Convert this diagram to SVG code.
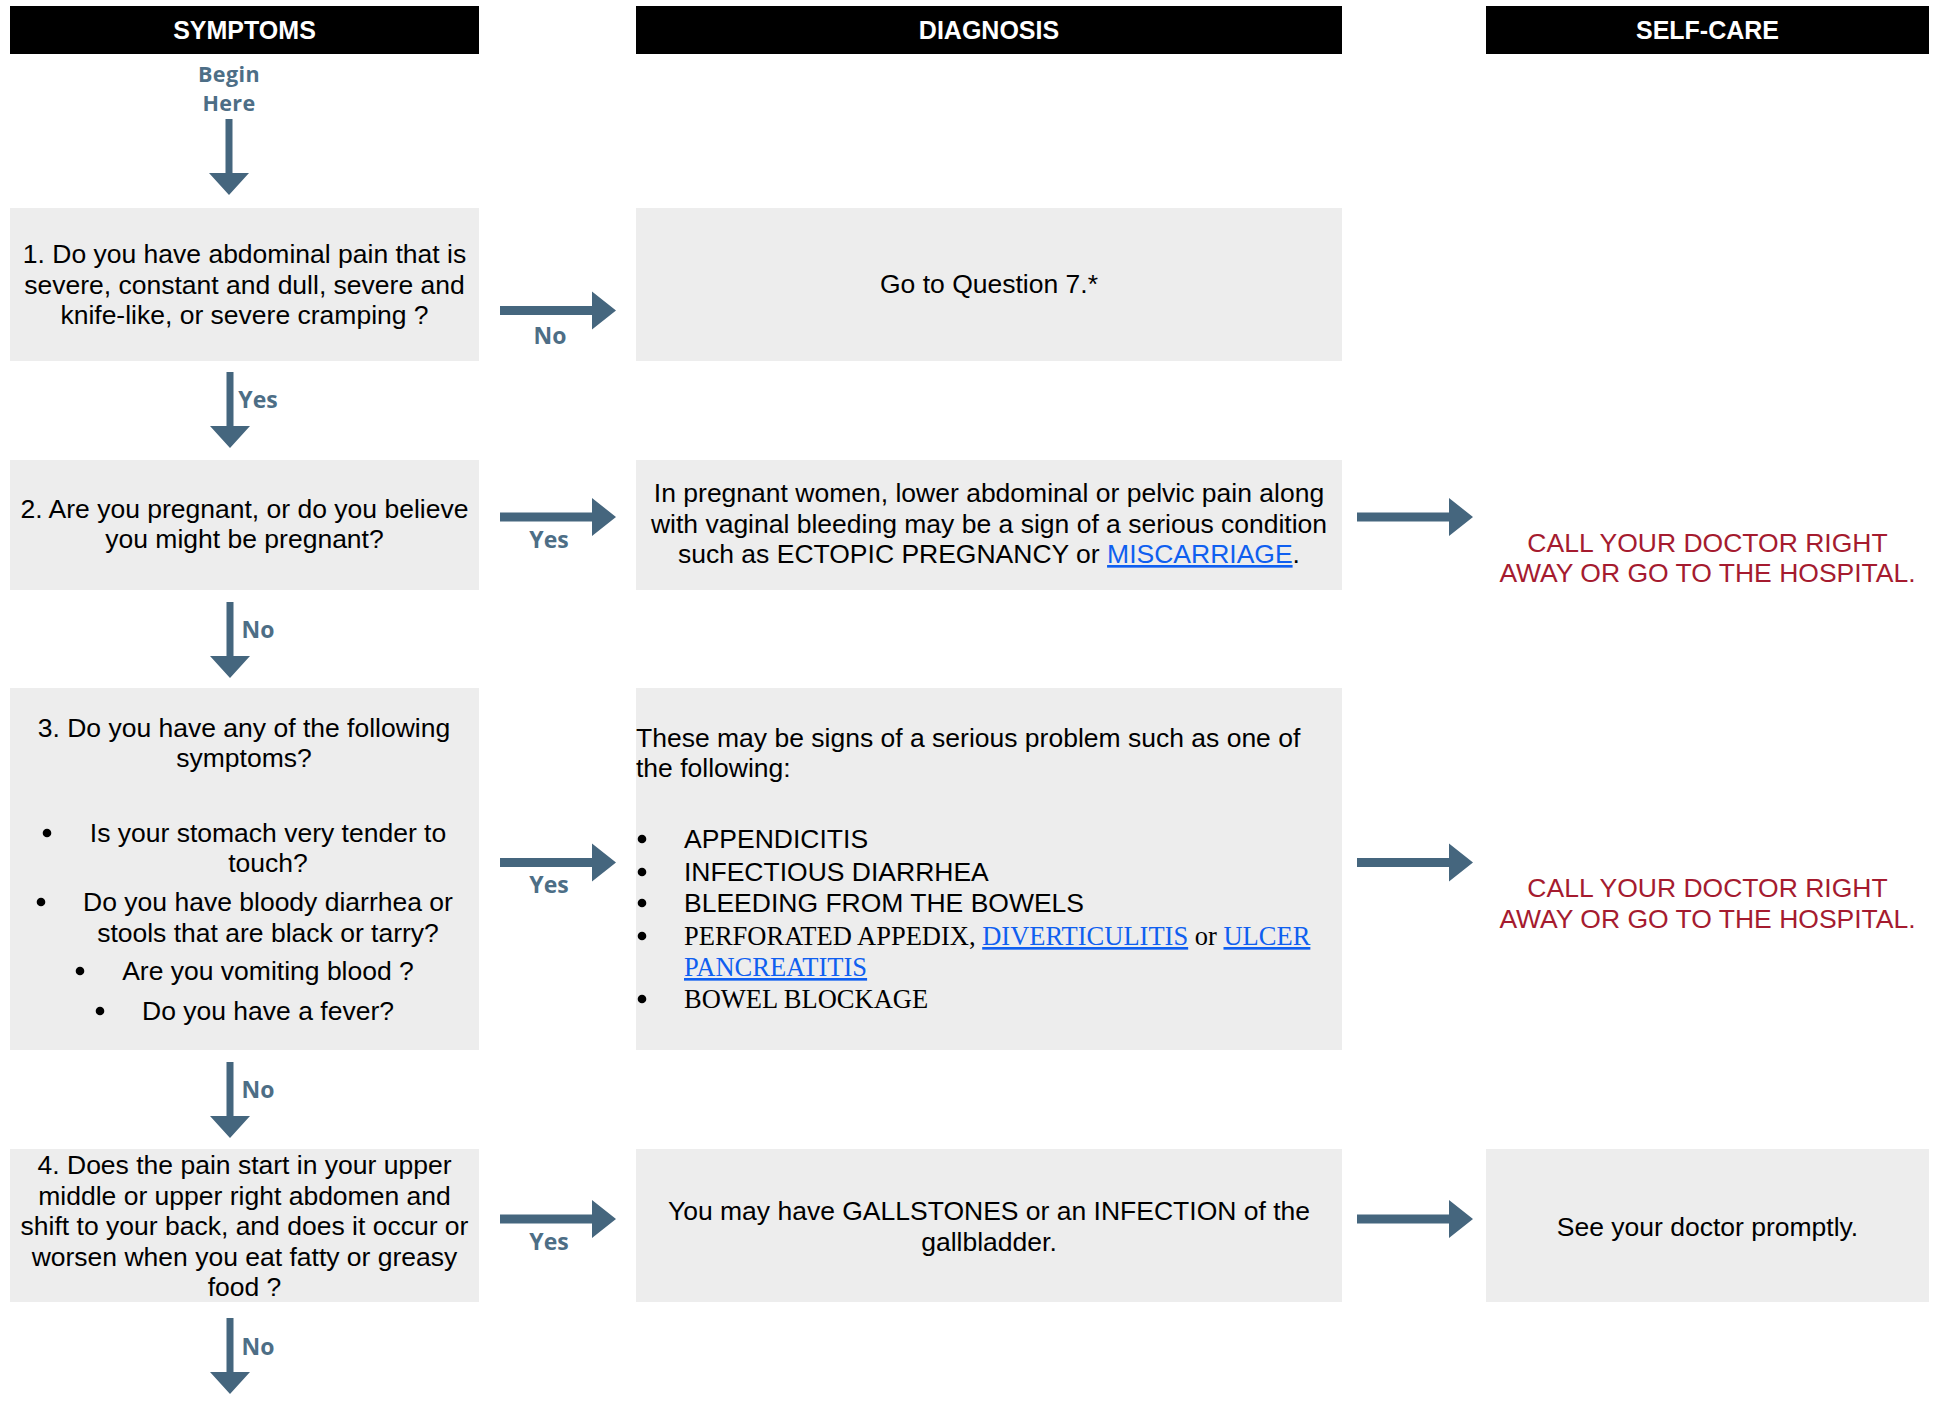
<svg xmlns="http://www.w3.org/2000/svg" xmlns:xlink="http://www.w3.org/1999/xlink" width="1939" height="1409" viewBox="0 0 1939 1409">
<style>
.box{fill:#ededed}
.hdr{fill:#000}
.ht{font-family:"Liberation Sans",Arial,sans-serif;font-weight:bold;font-size:25px;fill:#fff;text-anchor:middle}
.t{font-family:"Liberation Sans",Arial,sans-serif;font-size:26.5px;fill:#000}
.c{text-anchor:middle}
.serif{font-family:"Liberation Serif","Times New Roman",serif}
.lnk{fill:#0f5ff0;text-decoration:underline}
.red{fill:#a51b2f}
.lbl{font-family:"Open Sans",sans-serif;font-weight:bold;font-size:23px;fill:#4d6e86;text-anchor:middle}
.bh{font-size:21.5px;letter-spacing:0.4px}
.arr{fill:#45667e}
.bul{fill:#000}
</style>
<defs>
<path id="ra" class="arr" d="M0,-4.5 H92 V-19 L116,0 L92,19 V4.5 H0 Z"/>
<path id="da" class="arr" d="M-3.5,0 H3.5 V54 H20 L0,76 L-20,54 H-3.5 Z"/>
</defs>
<rect width="1939" height="1409" fill="#fff"/>

<g id="headers">
<g id="hdr-symptoms"><rect class="hdr" x="10" y="6" width="469" height="48"/><text class="ht" x="244.5" y="39">SYMPTOMS</text></g>
<g id="hdr-diagnosis"><rect class="hdr" x="636" y="6" width="706" height="48"/><text class="ht" x="989" y="39">DIAGNOSIS</text></g>
<g id="hdr-selfcare"><rect class="hdr" x="1486" y="6" width="443" height="48"/><text class="ht" x="1707.5" y="39">SELF-CARE</text></g>
</g>

<g id="begin">
<text class="lbl bh" x="229" y="81.5">Begin</text>
<text class="lbl bh" x="229" y="111">Here</text>
</g>

<g id="q1">
<rect class="box" x="10" y="208" width="469" height="153"/>
<text class="t c" x="244.5" y="263">1. Do you have abdominal pain that is</text>
<text class="t c" x="244.5" y="293.5">severe, constant and dull, severe and</text>
<text class="t c" x="244.5" y="324">knife-like, or severe cramping ?</text>
</g>

<g id="d1">
<rect class="box" x="636" y="208" width="706" height="153"/>
<text class="t c" x="989" y="293">Go to Question 7.*</text>
</g>

<g id="q2">
<rect class="box" x="10" y="460" width="469" height="130"/>
<text class="t c" x="244.5" y="518">2. Are you pregnant, or do you believe</text>
<text class="t c" x="244.5" y="548">you might be pregnant?</text>
</g>

<g id="d2">
<rect class="box" x="636" y="460" width="706" height="130"/>
<text class="t c" x="989" y="502">In pregnant women, lower abdominal or pelvic pain along</text>
<text class="t c" x="989" y="532.5">with vaginal bleeding may be a sign of a serious condition</text>
<text class="t c" x="989" y="563">such as ECTOPIC PREGNANCY or <tspan class="lnk">MISCARRIAGE</tspan>.</text>
</g>

<g id="s2">
<text class="t c red" x="1707.5" y="552">CALL YOUR DOCTOR RIGHT</text>
<text class="t c red" x="1707.5" y="582">AWAY OR GO TO THE HOSPITAL.</text>
</g>

<g id="q3">
<rect class="box" x="10" y="688" width="469" height="362"/>
<text class="t c" x="244" y="737">3. Do you have any of the following</text>
<text class="t c" x="244" y="767">symptoms?</text>
<circle class="bul" cx="47" cy="833" r="4.3"/>
<text class="t c" x="268" y="842">Is your stomach very tender to</text>
<text class="t c" x="268" y="872">touch?</text>
<circle class="bul" cx="41" cy="902" r="4.3"/>
<text class="t c" x="268" y="911">Do you have bloody diarrhea or</text>
<text class="t c" x="268" y="942">stools that are black or tarry?</text>
<circle class="bul" cx="80" cy="971" r="4.3"/>
<text class="t c" x="268" y="980">Are you vomiting blood ?</text>
<circle class="bul" cx="100" cy="1011" r="4.3"/>
<text class="t c" x="268" y="1020">Do you have a fever?</text>
</g>

<g id="d3">
<rect class="box" x="636" y="688" width="706" height="362"/>
<text class="t" x="636" y="747">These may be signs of a serious problem such as one of</text>
<text class="t" x="636" y="777">the following:</text>
<circle class="bul" cx="642" cy="839" r="4.3"/>
<text class="t" x="684" y="848">APPENDICITIS</text>
<circle class="bul" cx="642" cy="872" r="4.3"/>
<text class="t" x="684" y="881">INFECTIOUS DIARRHEA</text>
<circle class="bul" cx="642" cy="903" r="4.3"/>
<text class="t" x="684" y="912">BLEEDING FROM THE BOWELS</text>
<circle class="bul" cx="642" cy="936" r="4.3"/>
<text class="t serif" x="684" y="945">PERFORATED APPEDIX, <tspan class="lnk">DIVERTICULITIS</tspan> or <tspan class="lnk">ULCER</tspan></text>
<text class="t serif lnk" x="684" y="976">PANCREATITIS</text>
<circle class="bul" cx="642" cy="999" r="4.3"/>
<text class="t serif" x="684" y="1008">BOWEL BLOCKAGE</text>
</g>

<g id="s3">
<text class="t c red" x="1707.5" y="897">CALL YOUR DOCTOR RIGHT</text>
<text class="t c red" x="1707.5" y="927.5">AWAY OR GO TO THE HOSPITAL.</text>
</g>

<g id="q4">
<rect class="box" x="10" y="1149" width="469" height="153"/>
<text class="t c" x="244.5" y="1174">4. Does the pain start in your upper</text>
<text class="t c" x="244.5" y="1204.5">middle or upper right abdomen and</text>
<text class="t c" x="244.5" y="1235">shift to your back, and does it occur or</text>
<text class="t c" x="244.5" y="1265.5">worsen when you eat fatty or greasy</text>
<text class="t c" x="244.5" y="1296">food ?</text>
</g>

<g id="d4">
<rect class="box" x="636" y="1149" width="706" height="153"/>
<text class="t c" x="989" y="1220">You may have GALLSTONES or an INFECTION of the</text>
<text class="t c" x="989" y="1251">gallbladder.</text>
</g>

<g id="s4">
<rect class="box" x="1486" y="1149" width="443" height="153"/>
<text class="t c" x="1707.5" y="1236">See your doctor promptly.</text>
</g>

<g id="connectors">
<use xlink:href="#da" href="#da" x="229" y="119"/>
<use xlink:href="#ra" href="#ra" x="500" y="310.5"/>
<text class="lbl" x="550" y="344">No</text>
<use xlink:href="#da" href="#da" x="230" y="372"/>
<text class="lbl" x="258" y="408">Yes</text>
<use xlink:href="#ra" href="#ra" x="500" y="517"/>
<text class="lbl" x="549" y="548">Yes</text>
<use xlink:href="#ra" href="#ra" x="1357" y="517"/>
<use xlink:href="#da" href="#da" x="230" y="602"/>
<text class="lbl" x="258" y="638">No</text>
<use xlink:href="#ra" href="#ra" x="500" y="862.5"/>
<text class="lbl" x="549" y="893">Yes</text>
<use xlink:href="#ra" href="#ra" x="1357" y="862.5"/>
<use xlink:href="#da" href="#da" x="230" y="1062"/>
<text class="lbl" x="258" y="1098">No</text>
<use xlink:href="#ra" href="#ra" x="500" y="1219"/>
<text class="lbl" x="549" y="1250">Yes</text>
<use xlink:href="#ra" href="#ra" x="1357" y="1219"/>
<use xlink:href="#da" href="#da" x="230" y="1318"/>
<text class="lbl" x="258" y="1355">No</text>
</g>
</svg>
